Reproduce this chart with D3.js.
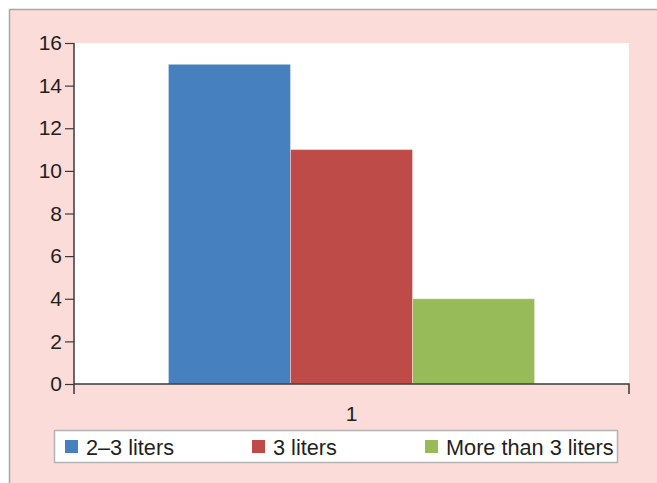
<!DOCTYPE html>
<html>
<head>
<meta charset="utf-8">
<script src="https://cdn.jsdelivr.net/npm/d3@7"></script>
<style>
  html, body { margin: 0; padding: 0; background: #fff; }
  svg { display: block; }
  text { font-family: "Liberation Sans", Arial, sans-serif; fill: #231f20; }
</style>
</head>
<body>
<script>
// Daily water intake groups, single category
const categories = ["1"];
const seriesNames = ["2–3 liters", "3 liters", "More than 3 liters"];
const seriesValues = [15, 11, 4];
const seriesColors = ["#4680be", "#be4b48", "#98bb59"];
const yTicks = [0, 2, 4, 6, 8, 10, 12, 14, 16];

const W = 657, H = 483;
const plot = { left: 74, top: 43, right: 629, bottom: 384 };

const svg = d3.select("body").append("svg")
  .attr("width", W).attr("height", H);

// outer frame
svg.append("rect")
  .attr("x", 9).attr("y", 9).attr("width", W - 9).attr("height", H - 9)
  .attr("fill", "#fcdcd8");
svg.append("path")
  .attr("d", `M9.5,${H} V9.5 H${W}`)
  .attr("fill", "none").attr("stroke", "#a7a7a7").attr("stroke-width", 1.5);

// plot background
svg.append("rect")
  .attr("x", plot.left).attr("y", plot.top)
  .attr("width", plot.right - plot.left).attr("height", plot.bottom - plot.top)
  .attr("fill", "#fff");

const x0 = d3.scaleBand().domain(categories)
  .range([plot.left, plot.right]).paddingInner(0).paddingOuter(0.258);
const x1 = d3.scaleBand().domain(seriesNames)
  .range([0, x0.bandwidth()]).padding(0);
const y = d3.scaleLinear().domain([0, 16]).range([plot.bottom, plot.top]);

// bars
const g = svg.append("g");
categories.forEach(c => {
  g.selectAll(null).data(seriesNames).join("rect")
    .attr("x", (d) => x0(c) + x1(d))
    .attr("y", (d, i) => y(seriesValues[i]))
    .attr("width", x1.bandwidth())
    .attr("height", (d, i) => y(0) - y(seriesValues[i]))
    .attr("fill", (d, i) => seriesColors[i])
    .attr("stroke", "rgba(255,255,255,0.35)")
    .attr("stroke-width", 1);
});

// y axis
const yAxis = svg.append("g")
  .attr("transform", `translate(${plot.left},0)`)
  .call(d3.axisLeft(y).tickValues(yTicks).tickSize(9).tickPadding(3).tickFormat(d3.format("d")));
yAxis.attr("font-size", null).attr("font-family", null);
yAxis.select(".domain").attr("d", `M0,${plot.top}V${plot.bottom + 10}`)
  .attr("stroke", "#3a3a3a").attr("stroke-width", 1.5);
yAxis.selectAll(".tick line").attr("stroke", "#3a3a3a").attr("stroke-width", 1.2);
yAxis.selectAll(".tick text").style("font-size", "21px").style("fill", "#231f20");

// x axis
const xAxis = svg.append("g")
  .attr("transform", `translate(0,${plot.bottom})`)
  .call(d3.axisBottom(x0).tickSize(0).tickPadding(22));
xAxis.attr("font-size", null).attr("font-family", null);
xAxis.select(".domain")
  .attr("d", `M${plot.left},0H${plot.right}V10`)
  .attr("stroke", "#3a3a3a").attr("stroke-width", 1.5).attr("fill", "none");
xAxis.selectAll(".tick text").style("font-size", "21px").style("fill", "#231f20")
  .attr("dy", "0.71em");

// legend
const legend = svg.append("g");
legend.append("rect")
  .attr("x", 54.5).attr("y", 430.5).attr("width", 563).attr("height", 32)
  .attr("fill", "#fff").attr("stroke", "#b3b3b3").attr("stroke-width", 1.5);
const legendX = [65, 252, 425];
const items = legend.selectAll("g.item").data(seriesNames).join("g")
  .attr("class", "item")
  .attr("transform", (d, i) => `translate(${legendX[i]},440)`);
items.append("rect")
  .attr("width", 13).attr("height", 13)
  .attr("fill", (d, i) => seriesColors[i]);
items.append("text")
  .attr("x", 21).attr("y", 14.5)
  .style("font-size", "21.7px")
  .text(d => d);
</script>
</body>
</html>
